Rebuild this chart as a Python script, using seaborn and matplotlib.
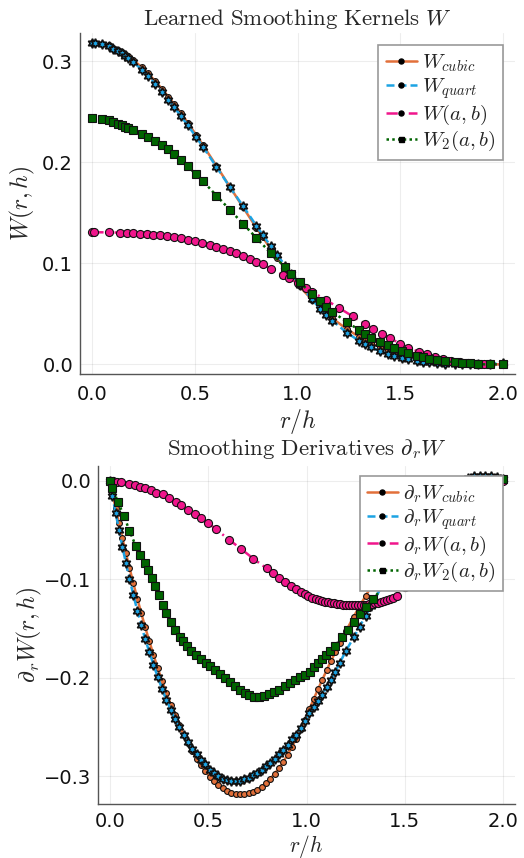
import matplotlib
matplotlib.use("Agg")
import matplotlib.pyplot as plt
from matplotlib.lines import Line2D
import seaborn as sns

# ---------------- kernel values W(r/h) ----------------
r_top = [0.000, 0.015, 0.047, 0.079, 0.103, 0.127, 0.144, 0.160, 0.176, 0.200,
         0.240, 0.270, 0.306, 0.340, 0.370, 0.400, 0.430, 0.465, 0.505, 0.540,
         0.605, 0.670, 0.735, 0.800, 0.830, 0.870, 0.900, 0.940, 0.970, 1.010,
         1.070, 1.110, 1.140, 1.170, 1.240, 1.300, 1.330, 1.360, 1.400, 1.440,
         1.470, 1.510, 1.540, 1.580, 1.610, 1.640, 1.680, 1.720, 1.770, 1.800,
         1.840, 1.880, 1.940, 2.000]
w_cubic = [0.3183, 0.3182, 0.3173, 0.3155, 0.3135, 0.3111, 0.3091, 0.3071, 0.3048, 0.3011,
           0.2941, 0.2882, 0.2804, 0.2725, 0.2650, 0.2572, 0.2490, 0.2391, 0.2273, 0.2167,
           0.1964, 0.1758, 0.1552, 0.1350, 0.1259, 0.1141, 0.1056, 0.0947, 0.0869, 0.0772,
           0.0640, 0.0561, 0.0506, 0.0455, 0.0349, 0.0273, 0.0239, 0.0209, 0.0172, 0.0140,
           0.0118, 0.0094, 0.0077, 0.0059, 0.0047, 0.0037, 0.0026, 0.0017, 0.0010, 0.0006,
           0.0003, 0.0001, 0.0000, 0.0000]
w_quart = [0.3183, 0.3181, 0.3170, 0.3148, 0.3125, 0.3099, 0.3077, 0.3055, 0.3030, 0.2991,
           0.2917, 0.2855, 0.2774, 0.2695, 0.2620, 0.2542, 0.2461, 0.2366, 0.2253, 0.2150,
           0.1954, 0.1755, 0.1565, 0.1370, 0.1283, 0.1168, 0.1086, 0.0975, 0.0894, 0.0790,
           0.0645, 0.0551, 0.0490, 0.0432, 0.0314, 0.0233, 0.0199, 0.0169, 0.0132, 0.0102,
           0.0085, 0.0064, 0.0050, 0.0037, 0.0028, 0.0021, 0.0013, 0.0007, 0.0003, 0.0002,
           0.0003, 0.0005, 0.0008, 0.0010]

r_top_ab = [0.000, 0.008, 0.080, 0.136, 0.168, 0.200, 0.233, 0.265, 0.298, 0.330,
            0.365, 0.400, 0.430, 0.465, 0.500, 0.537, 0.573, 0.605, 0.637, 0.670,
            0.700, 0.735, 0.767, 0.800, 0.830, 0.870, 0.930, 0.960, 1.000, 1.040,
            1.070, 1.140, 1.200, 1.270, 1.330, 1.370, 1.410, 1.450, 1.500, 1.540,
            1.590, 1.630, 1.670, 1.710, 1.750, 1.790, 1.830, 1.870, 1.910, 2.000]
w_ab = [0.1307, 0.1307, 0.1306, 0.1303, 0.1300, 0.1297, 0.1293, 0.1288, 0.1282, 0.1276,
        0.1267, 0.1257, 0.1246, 0.1233, 0.1219, 0.1202, 0.1183, 0.1164, 0.1144, 0.1121,
        0.1099, 0.1072, 0.1046, 0.1017, 0.0988, 0.0948, 0.0884, 0.0850, 0.0805, 0.0757,
        0.0720, 0.0636, 0.0561, 0.0474, 0.0399, 0.0350, 0.0303, 0.0260, 0.0205, 0.0165,
        0.0125, 0.0100, 0.0075, 0.0050, 0.0032, 0.0020, 0.0011, 0.0006, 0.0002, 0.0000]

r_top_2 = [0.000, 0.047, 0.079, 0.103, 0.127, 0.144, 0.160, 0.176, 0.200, 0.240,
           0.270, 0.306, 0.340, 0.370, 0.400, 0.432, 0.465, 0.505, 0.540, 0.605,
           0.670, 0.735, 0.800, 0.870, 0.940, 0.970, 1.010, 1.070, 1.110, 1.140,
           1.170, 1.240, 1.300, 1.330, 1.360, 1.400, 1.440, 1.470, 1.510, 1.540,
           1.580, 1.610, 1.640, 1.680, 1.720, 1.770, 1.800, 1.840, 1.880, 1.940, 2.000]
w_2 = [0.244, 0.243, 0.242, 0.240, 0.238, 0.237, 0.235, 0.234, 0.232, 0.228,
       0.225, 0.221, 0.217, 0.213, 0.208, 0.202, 0.196, 0.188, 0.181, 0.167,
       0.153, 0.139, 0.125, 0.110, 0.096, 0.089, 0.081, 0.070, 0.063, 0.057,
       0.052, 0.042, 0.034, 0.030, 0.026, 0.022, 0.019, 0.016, 0.013, 0.011,
       0.008, 0.007, 0.005, 0.004, 0.003, 0.002, 0.001, 0.001, 0.000, 0.000, 0.000]

# ---------------- derivative values dW/dr ----------------
r_d_cubic = [0.000, 0.013, 0.030, 0.047, 0.064, 0.082, 0.100, 0.120, 0.140, 0.160,
             0.180, 0.200, 0.222, 0.244, 0.266, 0.288, 0.310, 0.332, 0.354, 0.376,
             0.398, 0.420, 0.442, 0.464, 0.486, 0.508, 0.530, 0.552, 0.574, 0.596,
             0.618, 0.640, 0.662, 0.684, 0.706, 0.728, 0.750, 0.772, 0.794, 0.816,
             0.838, 0.860, 0.882, 0.904, 0.926, 0.948, 0.970, 0.992, 1.014, 1.036,
             1.058, 1.080, 1.102, 1.124, 1.146, 1.170, 1.200, 1.240, 1.300, 1.360,
             1.420, 1.480, 1.540, 1.600, 1.660, 1.720, 1.780, 1.840, 1.900, 1.960, 2.000]
dw_cubic = [0.0, -0.0123, -0.0280, -0.0433, -0.0582, -0.0735, -0.0883, -0.1043, -0.1197, -0.1345,
            -0.1487, -0.1623, -0.1767, -0.1904, -0.2033, -0.2156, -0.2272, -0.2381, -0.2483, -0.2578,
            -0.2666, -0.2747, -0.2822, -0.2889, -0.2949, -0.3003, -0.3049, -0.3089, -0.3122, -0.3147,
            -0.3166, -0.3178, -0.3183, -0.3181, -0.3172, -0.3156, -0.3133, -0.3104, -0.3067, -0.3023,
            -0.2973, -0.2915, -0.2851, -0.2780, -0.2701, -0.2616, -0.2524, -0.2425, -0.2321, -0.2218,
            -0.2118, -0.2021, -0.1925, -0.1832, -0.1741, -0.1645, -0.1528, -0.1379, -0.1170, -0.0978,
            -0.0803, -0.0646, -0.0505, -0.0382, -0.0276, -0.0187, -0.0116, -0.0061, -0.0024, -0.0004, 0.0]

r_d_quart = [0.000, 0.013, 0.030, 0.047, 0.064, 0.082, 0.100, 0.120, 0.140, 0.160,
             0.180, 0.200, 0.222, 0.244, 0.266, 0.288, 0.310, 0.332, 0.354, 0.376,
             0.398, 0.420, 0.442, 0.464, 0.486, 0.508, 0.530, 0.552, 0.574, 0.596,
             0.618, 0.640, 0.662, 0.684, 0.706, 0.728, 0.750, 0.772, 0.794, 0.816,
             0.838, 0.860, 0.882, 0.904, 0.926, 0.948, 0.970, 0.992, 1.014, 1.036,
             1.058, 1.080, 1.102, 1.124, 1.146, 1.170, 1.200, 1.240, 1.270, 1.300,
             1.330, 1.400, 1.480, 1.560, 1.640, 1.720, 1.780, 1.820, 1.850, 1.880,
             1.910, 1.940, 1.970, 2.000]
dw_quart = [0.0, -0.0153, -0.0330, -0.0503, -0.0672, -0.0835, -0.0993, -0.1163, -0.1317, -0.1465,
            -0.1607, -0.1733, -0.1867, -0.1994, -0.2113, -0.2226, -0.2322, -0.2421, -0.2503, -0.2578,
            -0.2646, -0.2717, -0.2772, -0.2829, -0.2879, -0.2933, -0.2969, -0.2999, -0.3022, -0.3037,
            -0.3046, -0.3048, -0.3043, -0.3031, -0.3012, -0.2986, -0.2963, -0.2934, -0.2897, -0.2863,
            -0.2823, -0.2775, -0.2731, -0.2680, -0.2621, -0.2576, -0.2514, -0.2435, -0.2361, -0.2298,
            -0.2238, -0.2171, -0.2095, -0.2022, -0.1941, -0.1845, -0.1728, -0.1589, -0.1482, -0.1370,
            -0.1272, -0.1000, -0.0730, -0.0490, -0.0280, -0.0110, -0.0010, 0.0030, 0.0045, 0.0052,
            0.0050, 0.0045, 0.0035, 0.0015]

r_d_ab = [0.000, 0.017, 0.037, 0.059, 0.100, 0.127, 0.153, 0.178, 0.207, 0.237,
          0.271, 0.302, 0.339, 0.364, 0.398, 0.432, 0.466, 0.500, 0.539, 0.607,
          0.666, 0.729, 0.797, 0.830, 0.861, 0.890, 0.920, 0.945, 0.970, 0.990,
          1.010, 1.030, 1.050, 1.065, 1.080, 1.095, 1.110, 1.125, 1.140, 1.155,
          1.170, 1.185, 1.200, 1.215, 1.230, 1.245, 1.260, 1.275, 1.290, 1.305,
          1.320, 1.335, 1.350, 1.365, 1.380, 1.395, 1.410, 1.425, 1.440, 1.460,
          1.500, 1.560, 1.620, 1.680, 1.740, 1.800, 1.860, 1.920, 2.000]
dw_ab = [0.0, 0.0, -0.001, -0.001, -0.003, -0.004, -0.006, -0.007, -0.009, -0.012,
         -0.014, -0.018, -0.022, -0.025, -0.030, -0.034, -0.038, -0.043, -0.049, -0.060,
         -0.069, -0.079, -0.089, -0.094, -0.099, -0.103, -0.107, -0.110, -0.113, -0.115,
         -0.117, -0.119, -0.120, -0.121, -0.122, -0.123, -0.1235, -0.124, -0.1245, -0.125,
         -0.1255, -0.126, -0.126, -0.1265, -0.1265, -0.1265, -0.1265, -0.1265, -0.126, -0.126,
         -0.1255, -0.125, -0.1245, -0.124, -0.123, -0.122, -0.121, -0.120, -0.119, -0.117,
         -0.108, -0.095, -0.080, -0.063, -0.046, -0.030, -0.016, -0.006, 0.0]

r_d_2 = [0.000, 0.012, 0.042, 0.073, 0.100, 0.132, 0.152, 0.178, 0.195, 0.212,
         0.229, 0.249, 0.271, 0.288, 0.309, 0.330, 0.356, 0.373, 0.390, 0.415,
         0.440, 0.465, 0.490, 0.510, 0.535, 0.560, 0.585, 0.610, 0.635, 0.660,
         0.685, 0.710, 0.735, 0.760, 0.785, 0.810, 0.835, 0.860, 0.890, 0.915,
         0.940, 0.965, 0.990, 1.017, 1.040, 1.060, 1.080, 1.100, 1.120, 1.144,
         1.178, 1.210, 1.240, 1.271, 1.300, 1.339, 1.400, 1.480, 1.560, 1.640,
         1.720, 1.800, 1.880, 1.940, 2.000]
dw_2 = [0.0, -0.007, -0.022, -0.036, -0.051, -0.066, -0.075, -0.084, -0.091, -0.099,
        -0.107, -0.116, -0.126, -0.134, -0.143, -0.151, -0.159, -0.163, -0.168, -0.173,
        -0.177, -0.181, -0.185, -0.188, -0.192, -0.196, -0.200, -0.204, -0.208, -0.212,
        -0.215, -0.217, -0.219, -0.219, -0.218, -0.216, -0.214, -0.212, -0.208, -0.205,
        -0.202, -0.199, -0.197, -0.194, -0.189, -0.185, -0.181, -0.177, -0.173, -0.168,
        -0.159, -0.151, -0.143, -0.135, -0.128, -0.120, -0.105, -0.086, -0.066, -0.046,
        -0.028, -0.013, -0.003, 0.001, 0.002]

x_ticks = [0.0, 0.5, 1.0, 1.5, 2.0]
y_ticks_top = [0.0, 0.1, 0.2, 0.3]
y_ticks_bottom = [-0.3, -0.2, -0.1, 0.0]

labels_top = [r"$W_{cubic}$", r"$W_{quart}$", r"$W(a,b)$", r"$W_2(a,b)$"]
labels_bottom = [r"$\partial_r W_{cubic}$", r"$\partial_r W_{quart}$",
                 r"$\partial_r W(a,b)$", r"$\partial_r W_2(a,b)$"]

# ---------------- styling ----------------
sns.set_style("white")
plt.rcParams["font.family"] = ["DejaVu Sans"]
plt.rcParams["mathtext.fontset"] = "cm"

C_CUBIC = "#E2703A"
C_QUART = "#1CA3E3"
C_AB = "#F0168C"
C_2 = "#006400"
LW = 1.8
EDGE = "#111111"

series_style = [
    dict(color=C_CUBIC, linestyle="-", marker="o", markersize=4.2,
         markerfacecolor=C_CUBIC, markeredgewidth=0.8),
    dict(color=C_QUART, linestyle=(0, (3.2, 1.6)), marker=(6, 1, 0), markersize=6.8,
         markerfacecolor=C_QUART, markeredgewidth=1.2),
    dict(color=C_AB, linestyle=(0, (4.5, 1.8, 0.8, 1.8)), marker="o", markersize=5.8,
         markerfacecolor=C_AB, markeredgewidth=0.8),
    dict(color=C_2, linestyle=(0, (1.0, 1.3)), marker="s", markersize=5.6,
         markerfacecolor=C_2, markeredgewidth=0.8),
]

fig = plt.figure(figsize=(5.24, 8.58), dpi=100)
W, H = 524, 858
ax1 = fig.add_axes([80 / W, 1 - 374 / H, 435 / W, 341 / H])
ax2 = fig.add_axes([98 / W, 1 - 804 / H, 417 / W, 338 / H])

top_data = [(r_top, w_cubic), (r_top, w_quart), (r_top_ab, w_ab), (r_top_2, w_2)]
bottom_data = [(r_d_cubic, dw_cubic), (r_d_quart, dw_quart), (r_d_ab, dw_ab), (r_d_2, dw_2)]

for ax, data in [(ax1, top_data), (ax2, bottom_data)]:
    for (xs, ys), st in zip(data, series_style):
        sns.lineplot(x=xs, y=ys, ax=ax, estimator=None, sort=False, linewidth=LW,
                     markeredgecolor=EDGE, **st)
    ax.margins(x=0.03, y=0.03)
    ax.set_xticks(x_ticks)
    ax.set_xticklabels([f"{t:.1f}" for t in x_ticks])
    ax.grid(True, color="#000000", alpha=0.07, linewidth=0.8)
    for side in ["top", "right"]:
        ax.spines[side].set_visible(False)
    for side in ["left", "bottom"]:
        ax.spines[side].set_color("#555555")
        ax.spines[side].set_linewidth(1.0)
    ax.tick_params(direction="in", length=4, width=0.8, color="#555555",
                   labelsize=14, labelcolor="#111111")
    ax.tick_params(axis="y", pad=5)

ax1.tick_params(axis="x", pad=8)
ax2.tick_params(axis="x", pad=6)
ax1.set_xlabel(r"$r/h$", fontsize=17, labelpad=2)
ax2.set_xlabel(r"$r/h$", fontsize=15.5, labelpad=1)

ax1.set_yticks(y_ticks_top)
ax1.set_yticklabels([f"{t:.1f}" for t in y_ticks_top])
ax2.set_yticks(y_ticks_bottom)
ax2.set_yticklabels([f"{t:.1f}".replace("-", "\u2212") for t in y_ticks_bottom])

ax1.set_ylabel(r"$W(r,h)$", fontsize=17, labelpad=4)
ax2.set_ylabel(r"$\partial_r W(r,h)$", fontsize=17, labelpad=0)
ax1.set_title(r"$\mathrm{Learned\ Smoothing\ Kernels}\ W$", fontsize=16.5, pad=6)
ax2.set_title(r"$\mathrm{Smoothing\ Derivatives}\ \partial_r W$", fontsize=16.5, pad=8)


def legend_handles():
    handles = []
    for st in series_style:
        mk = "s" if st["marker"] == "s" else "o"
        handles.append(Line2D([], [], color=st["color"], linestyle=st["linestyle"],
                              linewidth=LW, marker=mk, markersize=3.6,
                              markerfacecolor="black", markeredgecolor="black"))
    return handles


for ax, labels, anchor in [(ax1, labels_top, (0.9724, 0.9648)),
                           (ax2, labels_bottom, (0.9712, 0.9705))]:
    leg = ax.legend(legend_handles(), labels, loc="upper right", bbox_to_anchor=anchor,
                    borderaxespad=0, fontsize=15, frameon=True, fancybox=False,
                    framealpha=1, edgecolor="#999999", handlelength=1.5,
                    handletextpad=0.25, labelspacing=0.1, borderpad=0.35)
    leg.get_frame().set_linewidth(1.2)

fig.savefig("out.png", dpi=100)
